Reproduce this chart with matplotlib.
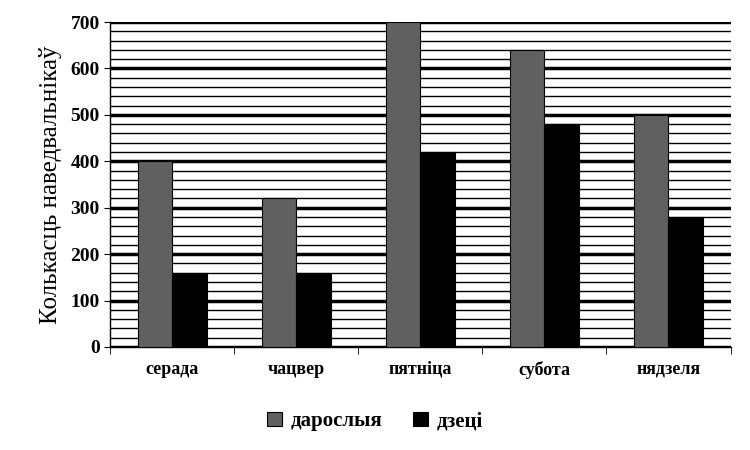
import numpy as np
import matplotlib.pyplot as plt
from matplotlib.ticker import MultipleLocator

days = ["серада", "чацвер", "пятніца", "субота", "нядзеля"]
adults = [400, 320, 700, 640, 500]
kids = [160, 160, 420, 480, 280]

plt.rcParams['font.family'] = ['Liberation Serif', 'DejaVu Serif']
plt.rcParams['font.weight'] = 'bold'

fig = plt.figure(figsize=(7.5, 4.5), dpi=100)
ax = fig.add_axes([0.147, 0.229, 0.827, 0.722])

x = np.arange(len(days))
w = 0.28
ax.bar(x - w/2, adults, w, color='#606060', edgecolor='black', linewidth=0.8, label='дарослыя', zorder=3)
ax.bar(x + w/2, kids, w, color='black', edgecolor='black', linewidth=0.8, label='дзеці', zorder=3)

ax.set_xlim(-0.5, len(days) - 0.5)
ax.set_ylim(0, 700)
ax.yaxis.set_major_locator(MultipleLocator(100))
ax.yaxis.set_minor_locator(MultipleLocator(20))
ax.grid(axis='y', which='major', color='black', linewidth=2.5, zorder=0)
ax.grid(axis='y', which='minor', color='black', linewidth=1, zorder=0)
ax.tick_params(axis='y', which='minor', length=0)
ax.tick_params(axis='y', which='major', length=4, labelsize=14)

ax.set_xticks(x)
ax.set_xticklabels(days, fontsize=13)
ax.tick_params(axis='x', which='major', length=0, pad=10)
ax.set_xticks(np.arange(-0.5, len(days)), minor=True)
ax.tick_params(axis='x', which='minor', length=5, direction='out')

for s in ['top', 'right']:
    ax.spines[s].set_visible(False)
ax.spines['left'].set_linewidth(1)
ax.spines['bottom'].set_linewidth(1)

ax.set_ylabel('Колькасць наведвальнікаў', fontsize=18, labelpad=6)
fig.legend(loc='lower center', bbox_to_anchor=(0.5, 0.0), ncol=2, frameon=False,
           fontsize=15, handlelength=0.7, handleheight=0.7, columnspacing=1.5, handletextpad=0.4)

fig.savefig('out.png')
